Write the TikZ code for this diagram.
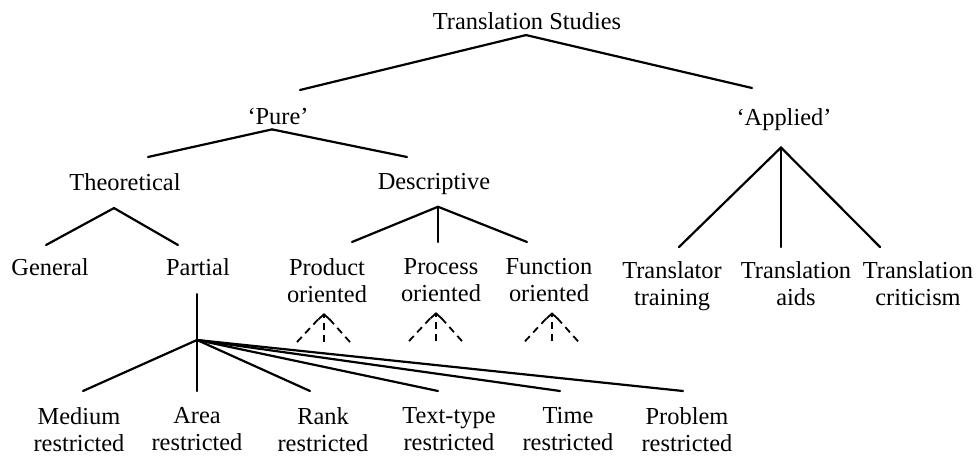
\documentclass[tikz,border=0pt]{standalone}
\usepackage{fontspec}
\setmainfont{Liberation Serif}
\usetikzlibrary{arrows.meta}

\tikzstyle{lbl} = [inner sep=0pt, anchor=north, align=center, font=\fontsize{24.4}{27}\selectfont]
\tikzstyle{branch} = [line width=2.2pt, line cap=round]
\tikzstyle{hint} = [line width=1.8pt, dash pattern=on 7pt off 5pt]

\begin{document}
\begin{tikzpicture}[x=1pt, y=-1pt]
\useasboundingbox (0,0) rectangle (976,457);

% labels
\node[lbl] (ts) at (527,12) {Translation Studies};
\node[lbl] (pure) at (278,108) {‘Pure’};
\node[lbl] (applied) at (784,108) {‘Applied’};
\node[lbl] (theo) at (125,173) {Theoretical};
\node[lbl] (desc) at (434,173) {Descriptive};
\node[lbl] (general) at (50,258) {General};
\node[lbl] (partial) at (198,258) {Partial};
\node[lbl] (product) at (327,258) {Product\\oriented};
\node[lbl] (process) at (441,258) {Process\\oriented};
\node[lbl] (function) at (549,258) {Function\\oriented};
\node[lbl] (trainer) at (672,261) {Translator\\training};
\node[lbl] (aids) at (796,261) {Translation\\aids};
\node[lbl] (critic) at (918,261) {Translation\\criticism};
\node[lbl] (medium) at (79,407) {Medium\\restricted};
\node[lbl] (area) at (197,407) {Area\\restricted};
\node[lbl] (rank) at (323,407) {Rank\\restricted};
\node[lbl] (ttype) at (449,407) {Text-type\\restricted};
\node[lbl] (time) at (568,407) {Time\\restricted};
\node[lbl] (problem) at (687,407) {Problem\\restricted};

% branch points
\coordinate (ts-j) at ([shift={(-1,5.5)}]ts.south);
\coordinate (pure-j) at ([shift={(-6,4.5)}]pure.south);
\coordinate (applied-j) at ([shift={(-3,17)}]applied.south);
\coordinate (theo-j) at ([shift={(-11,17.5)}]theo.south);
\coordinate (desc-j) at ([shift={(4,12)}]desc.south);
\coordinate (partial-top) at ([shift={(-1,18.5)}]partial.south);
\coordinate (partial-j) at (197,340);

\draw[branch] (ts-j) -- ([shift={(22,-18)}]pure.north);
\draw[branch] (ts-j) -- ([shift={(-32,-20)}]applied.north);

\draw[branch] (pure-j) -- ([shift={(23,-16)}]theo.north);
\draw[branch] (pure-j) -- ([shift={(-27,-16)}]desc.north);

\draw[branch] (theo-j) -- ([shift={(-4,-13)}]general.north);
\draw[branch] (theo-j) -- ([shift={(-20,-13)}]partial.north);

\foreach \n/\dx in {product/25, process/-3, function/-22}
    \draw[branch] (desc-j) -- ([shift={(\dx,-16)}]\n.north);

\foreach \n/\dx in {trainer/7, aids/-15, critic/-38}
    \draw[branch] (applied-j) -- ([shift={(\dx,-14)}]\n.north);

\draw[branch] (partial-top) -- (partial-j);
\foreach \n/\dx in {medium/4, area/0, rank/-13, ttype/-11, time/-8, problem/-4}
    \draw[branch] (partial-j) -- ([shift={(\dx,-16)}]\n.north);

% dashed hints under the descriptive branches
\foreach \n/\dx in {product/-3, process/-5, function/3} {
    \coordinate (\n-tip) at ([shift={(\dx,10.5)}]\n.south);
    \draw[hint, -{Straight Barb[length=5pt,width=11pt]}] ([shift={(0,29)}]\n-tip) -- (\n-tip);
    \draw[hint, shorten >=4pt] ([shift={(-27,29)}]\n-tip) -- (\n-tip);
    \draw[hint, shorten >=4pt] ([shift={(26,29)}]\n-tip) -- (\n-tip);
}
\end{tikzpicture}
\end{document}
